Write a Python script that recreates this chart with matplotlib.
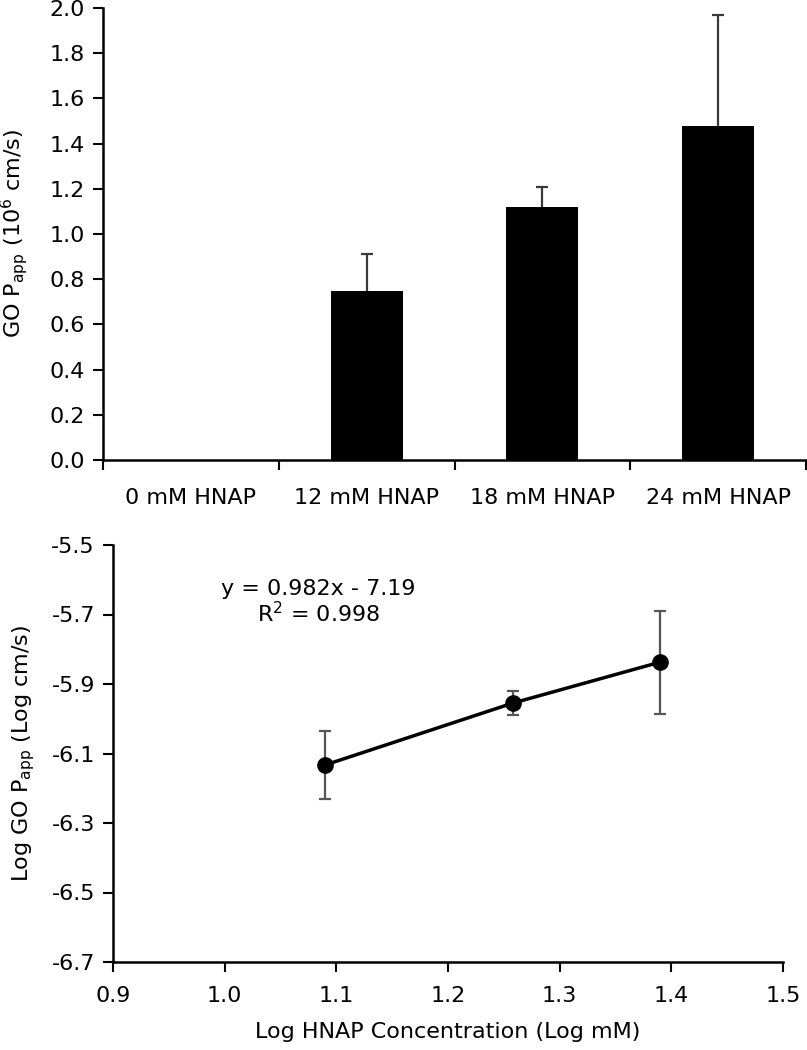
import matplotlib
matplotlib.use("Agg")
import matplotlib.pyplot as plt
import numpy as np

# ---- data: top bar chart ----
categories = ["0 mM HNAP", "12 mM HNAP", "18 mM HNAP", "24 mM HNAP"]
papp = [0.0, 0.75, 1.12, 1.48]
papp_err = [0.0, 0.16, 0.09, 0.49]

# ---- data: bottom log-log chart ----
log_conc = [1.09, 1.258, 1.39]
log_papp = [-6.133, -5.955, -5.837]
log_err = [0.097, 0.034, 0.148]
fit_text = "y = 0.982x - 7.19\nR$^{2}$ = 0.998"

plt.rcParams['font.family'] = ['DejaVu Sans']
FS = 16

fig = plt.figure(figsize=(8.07, 10.5), dpi=100)

# ---------- top ----------
ax1 = fig.add_axes([103/807, 1-460/1050, (806-103)/807, (460-8)/1050])
x = np.arange(len(categories))
ax1.bar(x, papp, width=0.41, color="black", zorder=3)
mask = [e > 0 for e in papp_err]
xe = [xi for xi, m in zip(x, mask) if m]
ye = [p for p, m in zip(papp, mask) if m]
ee = [e for e, m in zip(papp_err, mask) if m]
eb = ax1.errorbar(xe, ye, yerr=[[0]*len(ee), ee], fmt="none", ecolor="#3a3a3a",
                  elinewidth=1.6, capsize=4, capthick=1.6, zorder=2)
# hide the lower caps (one-sided error bars)
if len(eb[1]) == 2:
    eb[1][0].set_visible(False)
ax1.set_xlim(-0.5, 3.5)
ax1.set_ylim(0, 2.0)
ax1.set_yticks(np.arange(0, 2.01, 0.2))
ax1.set_yticklabels([f"{v:.1f}" for v in np.arange(0, 2.01, 0.2)])
ax1.set_xticks(np.arange(-0.5, 3.6, 1.0))
ax1.set_xticklabels([])
ax1.set_xticks(x, minor=True)
ax1.set_xticklabels(categories, minor=True)
ax1.tick_params(axis="x", which="minor", length=0, pad=20, labelsize=FS)
ax1.tick_params(axis="x", which="major", length=7, width=1.5, direction="out")
ax1.tick_params(axis="y", length=7, width=1.5, direction="out", labelsize=FS, pad=6)
ax1.spines["top"].set_visible(False)
ax1.spines["right"].set_visible(False)
for s in ("left", "bottom"):
    ax1.spines[s].set_linewidth(1.8)
ax1.set_ylabel("GO P$_{\\mathrm{app}}$ (10$^{6}$ cm/s)", fontsize=FS, labelpad=14)

# ---------- bottom ----------
ax2 = fig.add_axes([113/807, 1-962/1050, (783-113)/807, (962-545)/1050])
ax2.errorbar(log_conc, log_papp, yerr=log_err, fmt="none", ecolor="#555555",
             elinewidth=1.6, capsize=4, capthick=1.6, zorder=2)
ax2.plot(log_conc, log_papp, color="black", lw=2.5, marker="o", ms=11, zorder=3)
ax2.set_xlim(0.9, 1.5)
ax2.set_ylim(-6.7, -5.5)
ax2.set_xticks(np.arange(0.9, 1.51, 0.1))
ax2.set_xticklabels([f"{v:.1f}" for v in np.arange(0.9, 1.51, 0.1)])
ax2.set_yticks(np.arange(-6.7, -5.49, 0.2))
ax2.set_yticklabels([f"{v:.1f}" for v in np.arange(-6.7, -5.49, 0.2)])
ax2.tick_params(axis="both", length=7, width=1.5, direction="out", labelsize=FS)
ax2.tick_params(axis="x", pad=10)
ax2.tick_params(axis="y", pad=6)
ax2.spines["top"].set_visible(False)
ax2.spines["right"].set_visible(False)
for s in ("left", "bottom"):
    ax2.spines[s].set_linewidth(1.8)
ax2.set_xlabel("Log HNAP Concentration (Log mM)", fontsize=FS, labelpad=12)
ax2.set_ylabel("Log GO P$_{\\mathrm{app}}$ (Log cm/s)", fontsize=FS, labelpad=10)
ax2.text(1.084, -5.665, fit_text, fontsize=FS, ha="center", va="center",
         multialignment="center", linespacing=1.1)

fig.savefig("out.png", dpi=100)
